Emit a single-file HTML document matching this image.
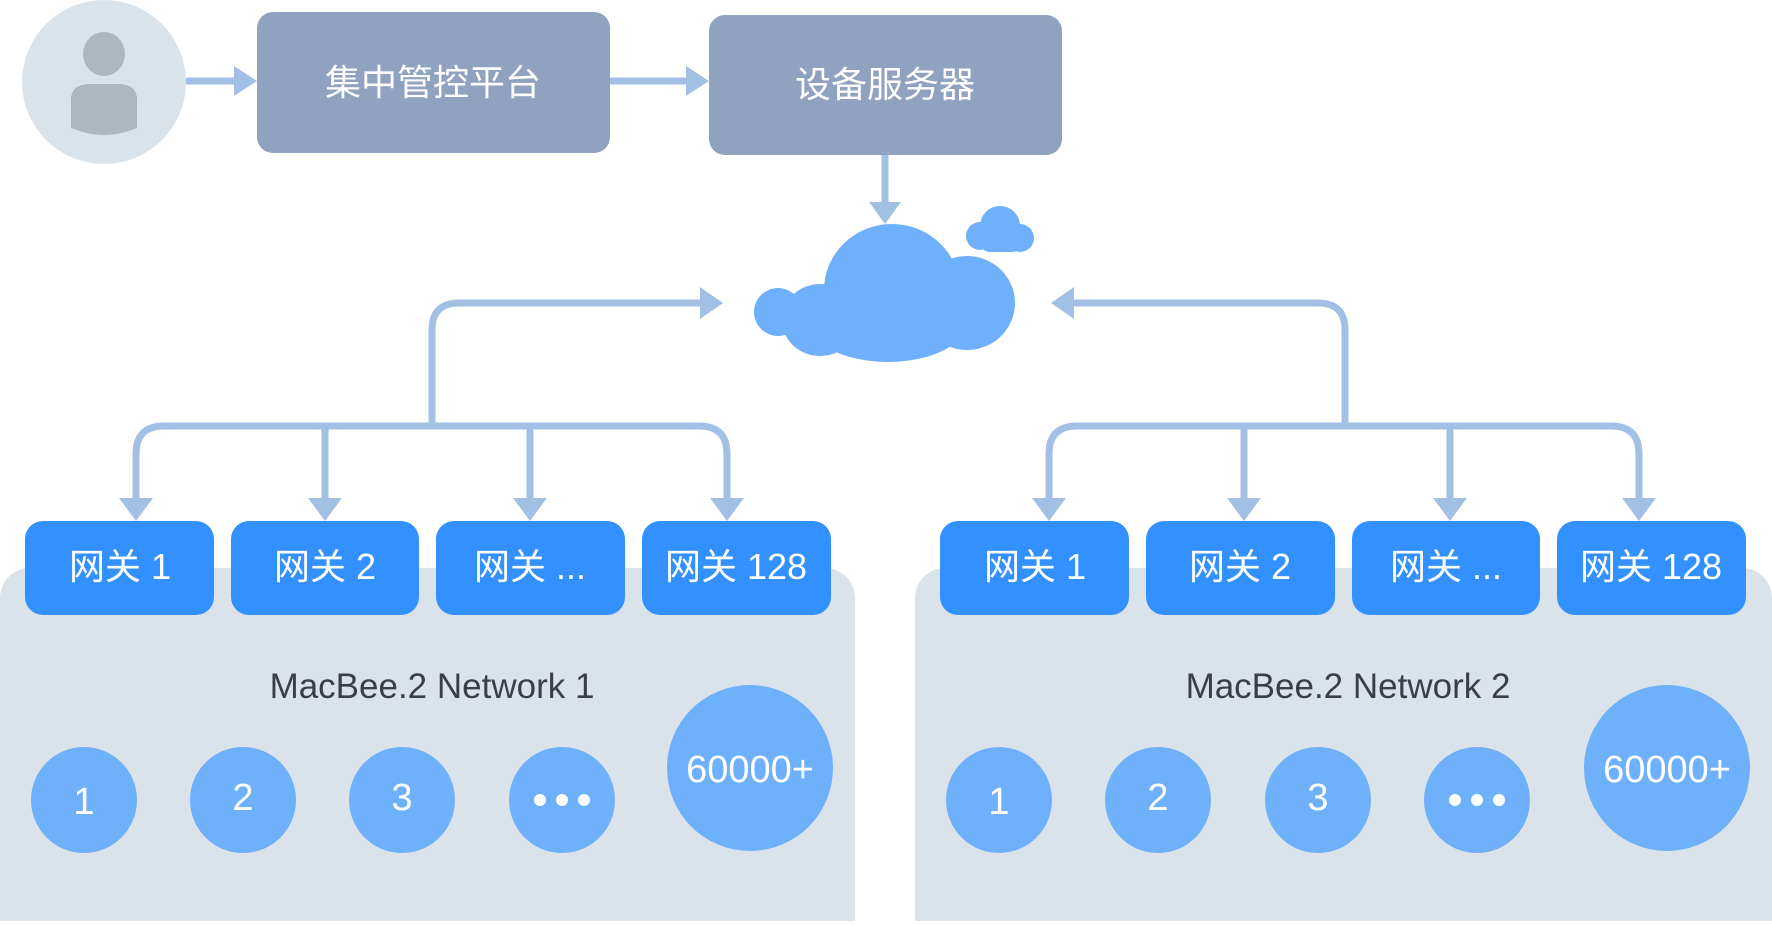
<!DOCTYPE html><html><head><meta charset="utf-8"><style>
body{margin:0;background:#fff}
svg text{font-family:"Liberation Sans","Noto Sans CJK SC",sans-serif}
</style></head><body>
<svg width="1772" height="921" viewBox="0 0 1772 921" xmlns="http://www.w3.org/2000/svg">
<!-- panels -->
<rect x="0" y="568" width="855" height="380" rx="30" fill="#dbe3ea"/>
<rect x="915" y="568" width="857" height="380" rx="30" fill="#dbe3ea"/>
<!-- user -->
<circle cx="104" cy="82" r="82" fill="#dbe3ea"/>
<ellipse cx="104" cy="54" rx="21" ry="22" fill="#adb5bf"/>
<path d="M71,100 Q71,84 90,84 L118,84 Q137,84 137,100 L137,128 Q104,142 71,128 z" fill="#adb5bf"/>
<!-- top boxes -->
<rect x="257" y="12" width="353" height="141" rx="16" fill="#8fa2c0"/>
<rect x="709" y="15" width="353" height="140" rx="16" fill="#8fa2c0"/>
<text x="433" y="95" font-size="36" fill="#fff" text-anchor="middle">集中管控平台</text>
<text x="885" y="97" font-size="36" fill="#fff" text-anchor="middle">设备服务器</text>
<g stroke="#a1c0e4" stroke-width="7" fill="none">
<line x1="186" y1="81" x2="236" y2="81"/>
<line x1="610" y1="81" x2="690" y2="81"/>
<line x1="885" y1="155" x2="885" y2="205"/>
<path d="M432,426 L432,330 Q432,303 459,303 L705,303"/>
<path d="M1345,426 L1345,330 Q1345,303 1318,303 L1068,303"/>
<path d="M136,502 L136,454 Q136,426 164,426 L699,426 Q727,426 727,454 L727,502"/>
<line x1="325" y1="426" x2="325" y2="502"/><line x1="530" y1="426" x2="530" y2="502"/>
<path d="M1049,502 L1049,454 Q1049,426 1077,426 L1611,426 Q1639,426 1639,454 L1639,502"/>
<line x1="1244" y1="426" x2="1244" y2="502"/><line x1="1450" y1="426" x2="1450" y2="502"/>
</g>
<g fill="#a1c0e4">
<path d="M234,66 L257,81 L234,96 z"/><path d="M686,66 L709,81 L686,96 z"/>
<path d="M869,202 L885,224 L901,202 z"/>
<path d="M700,287 L723,303 L700,319 z"/><path d="M1074,287 L1051,303 L1074,319 z"/>
<path d="M119,498 L136,521 L153,498 z"/><path d="M308,498 L325,521 L342,498 z"/><path d="M513,498 L530,521 L547,498 z"/><path d="M710,498 L727,521 L744,498 z"/>
<path d="M1032,498 L1049,521 L1066,498 z"/><path d="M1227,498 L1244,521 L1261,498 z"/><path d="M1433,498 L1450,521 L1467,498 z"/><path d="M1622,498 L1639,521 L1656,498 z"/>
</g>
<!-- cloud -->
<g fill="#6fb0fb">
<ellipse cx="892" cy="290" rx="68" ry="66"/>
<ellipse cx="888" cy="318" rx="82" ry="44"/>
<ellipse cx="967" cy="303" rx="48" ry="47"/>
<ellipse cx="820" cy="320" rx="38" ry="36"/>
<ellipse cx="778" cy="312" rx="24" ry="24"/>
<circle cx="1000" cy="226" r="20"/><circle cx="980" cy="236" r="14"/><circle cx="1020" cy="238" r="14"/><rect x="980" y="232" width="42" height="20" rx="10"/>
</g>
<!-- gateways -->
<g fill="#3390ff">
<rect x="25" y="521" width="189" height="94" rx="18"/><rect x="231" y="521" width="188" height="94" rx="18"/><rect x="436" y="521" width="189" height="94" rx="18"/><rect x="642" y="521" width="189" height="94" rx="18"/>
<rect x="940" y="521" width="189" height="94" rx="18"/><rect x="1146" y="521" width="189" height="94" rx="18"/><rect x="1352" y="521" width="188" height="94" rx="18"/><rect x="1557" y="521" width="189" height="94" rx="18"/>
</g>
<g font-size="36" fill="#fff" text-anchor="middle">
<text x="120" y="579">网关 1</text><text x="325" y="579">网关 2</text><text x="530" y="579">网关 ...</text><text x="736" y="579">网关 128</text>
<text x="1035" y="579">网关 1</text><text x="1240" y="579">网关 2</text><text x="1446" y="579">网关 ...</text><text x="1651" y="579">网关 128</text>
</g>
<g font-size="35" fill="#3a3f47" text-anchor="middle">
<text x="432" y="698">MacBee.2 Network 1</text><text x="1348" y="698">MacBee.2 Network 2</text>
</g>
<g fill="#6fb0fb">
<circle cx="84" cy="800" r="53"/><circle cx="243" cy="800" r="53"/><circle cx="402" cy="800" r="53"/><circle cx="562" cy="800" r="53"/><circle cx="750" cy="768" r="83"/>
<circle cx="999" cy="800" r="53"/><circle cx="1158" cy="800" r="53"/><circle cx="1318" cy="800" r="53"/><circle cx="1477" cy="800" r="53"/><circle cx="1667" cy="768" r="83"/>
</g>
<g font-size="38" fill="#fff" text-anchor="middle">
<text x="84" y="814">1</text><text x="243" y="810">2</text><text x="402" y="810">3</text>
<text x="999" y="814">1</text><text x="1158" y="810">2</text><text x="1318" y="810">3</text>
<text x="750" y="782">60000+</text><text x="1667" y="782">60000+</text>
</g>
<g fill="#fff">
<circle cx="540" cy="800" r="6"/><circle cx="562" cy="800" r="6"/><circle cx="584" cy="800" r="6"/>
<circle cx="1455" cy="800" r="6"/><circle cx="1477" cy="800" r="6"/><circle cx="1499" cy="800" r="6"/>
</g>
</svg>
</body></html>
